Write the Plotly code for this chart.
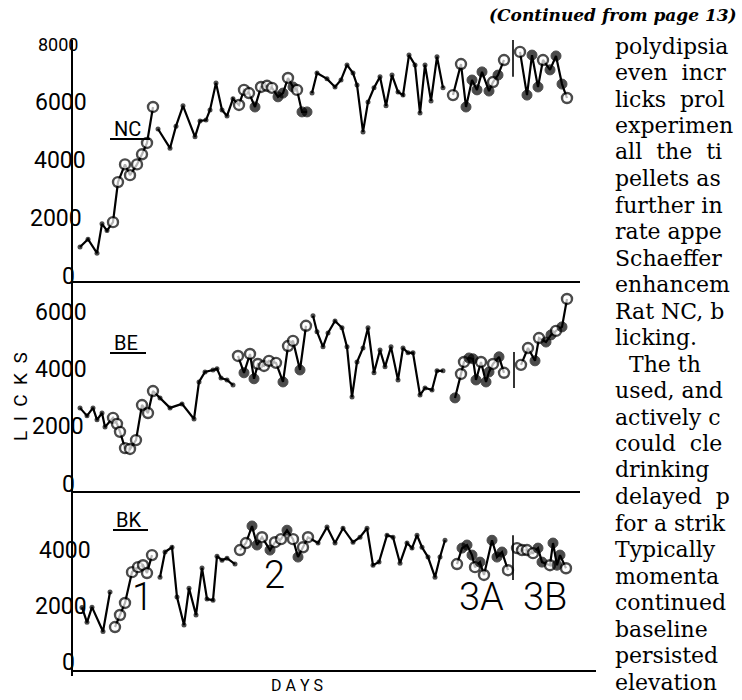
import plotly.graph_objects as go

# ---------------- data ----------------
# each rat: list of line segments (breaks in the record); marks: d = small dot,
# o = open circle, f = filled circle
NC_DAYS = [
    [1.4, 3.0, 4.8, 5.8, 6.8, 8.0, 9.0, 10.4, 11.4, 12.8, 13.8, 14.8, 16.0],
    [17.0, 19.4, 20.6, 22.0, 24.4, 25.4, 26.6, 27.4, 28.6, 29.8, 30.8, 32.0,
     33.2, 34.2, 35.2, 36.4, 37.6, 38.8, 39.8, 41.0, 42.0, 43.0, 44.0, 44.8, 45.8, 46.8],
    [47.8, 48.8, 50.8, 52.4, 53.6, 54.8, 56.0, 56.8, 58.0, 59.0, 60.2, 61.4, 62.6,
     63.8, 65.0, 66.0, 67.2, 68.4, 69.4, 70.4, 71.6, 72.8, 74.0],
    [76.0, 77.6, 78.6, 79.8, 80.8, 81.8, 83.2, 84.0, 85.0, 86.2],
    [89.4, 90.8, 91.8, 93.0, 94.0, 95.4, 96.6, 97.8, 98.8],
]
NC_LICKS = [
    [1000, 1270, 790, 1800, 1570, 1860, 3240, 3850, 3480, 3850, 4200, 4590, 5830],
    [5070, 4410, 5170, 5870, 4800, 5350, 5380, 5730, 6660, 5730, 5520, 6110,
     5900, 6420, 6310, 5830, 6520, 6560, 6490, 6180, 6310, 6830, 6520, 6420, 5660, 5660],
    [6310, 7000, 6800, 6520, 6760, 7280, 7000, 6590, 4970, 6000, 6490, 6870, 5870,
     6930, 6350, 6240, 7620, 7280, 5620, 7280, 6040, 7560, 6490],
    [6240, 7310, 5830, 6760, 6420, 7040, 6380, 6690, 6930, 7450],
    [7730, 6240, 7620, 6520, 7450, 7110, 7590, 6620, 6140],
]
NC_MARKS = ["dddddoooooooo", "dddddddddddd" + "ooofoooffofoff", "d" * 23,
            "oofffffofo", "offfofffo"]

BE_DAYS = [
    [1.4, 2.8, 4.0, 4.8, 5.8, 6.4, 8.0, 8.8, 9.4, 10.4, 11.4, 12.6, 13.8, 15.0, 16.0,
     17.4, 19.4, 21.8, 24.2, 25.2, 26.4, 28.0, 28.8, 29.6, 30.8, 32.0],
    [33.0, 34.2, 35.4, 36.2, 37.0, 38.2, 39.2, 40.6, 42.0, 43.0, 44.0, 45.4, 46.6],
    [48.0, 48.8, 50.0, 51.0, 52.4, 53.8, 54.8, 55.8, 56.8, 58.0, 59.0, 60.2, 61.4,
     62.4, 63.6, 65.0, 66.0, 67.0, 68.0, 69.4, 70.4, 71.8, 72.8, 74.0],
    [76.4, 77.6, 78.2, 79.2, 80.0, 80.6, 81.6, 82.6, 83.2, 84.0, 85.2, 86.2],
    [89.6, 91.0, 92.4, 93.2, 94.6, 95.6, 96.6, 97.8, 98.8],
]
BE_LICKS = [
    [2670, 2390, 2670, 2250, 2490, 2000, 2320, 2110, 1830, 1260, 1230, 1540, 2770, 2490,
     3260, 3020, 2670, 2810, 2280, 3580, 3930, 4000, 4040, 3720, 3650, 3470],
    [4490, 3900, 4560, 3690, 4210, 4140, 4320, 4250, 3580, 4840, 5020, 4000, 5550],
    [5900, 5340, 4810, 5300, 5720, 5480, 4810, 3050, 4280, 4770, 5480, 3900, 4700,
     4110, 4810, 3650, 4770, 4600, 4600, 3120, 3370, 3300, 3970, 3970],
    [3020, 3860, 4280, 4420, 4390, 3650, 4280, 3580, 3930, 4210, 4460, 3900],
    [4180, 4770, 4320, 5120, 4980, 5230, 5370, 5510, 6490],
]
BE_MARKS = ["d" * 6 + "o" * 9 + "d" * 11, "ofofoooofoofo", "d" * 24,
            "foofffoffofo", "oofoffofo"]

BK_DAYS = [
    [1.8, 2.8, 3.8, 6.0, 7.4],
    [8.4, 9.4, 10.4, 11.8, 13.0, 14.0, 14.8, 15.8],
    [17.4, 18.4, 19.8, 20.8, 22.2, 23.2, 24.6, 25.8, 26.8, 28.0, 28.8, 29.8, 30.8, 32.4],
    [33.4, 34.6, 35.8, 36.8, 37.8, 39.4, 40.4, 41.6, 42.8, 44.0, 45.0, 46.0, 47.0,
     49.0, 50.8, 52.4, 54.0, 56.0, 57.4, 58.8, 60.0, 61.2, 62.8, 64.0, 65.4, 66.8,
     67.8, 68.8, 69.8, 71.0, 72.4, 73.4, 74.4],
    [76.8, 77.8, 78.8, 79.8, 80.4, 81.4, 82.2, 83.8, 84.8, 85.8, 87.0],
    [88.8, 89.8, 90.8, 92.0, 93.0, 93.8, 95.4, 96.0, 96.8, 97.4, 98.6],
]
BK_LICKS = [
    [1950, 1420, 1960, 1090, 2500],
    [1250, 1680, 2110, 3210, 3390, 3460, 3180, 3820],
    [3030, 3930, 4100, 2320, 1320, 2640, 1680, 3360, 2250, 2210, 3780, 3640, 3710, 3500],
    [4000, 4250, 4860, 4180, 4460, 4000, 4280, 4390, 4710, 4390, 3750, 4100, 4460,
     4250, 4820, 4250, 4780, 4280, 4460, 4780, 3460, 3570, 4530, 4460, 3530, 4250,
     4070, 4530, 4100, 3750, 3030, 3750, 4350],
    [3500, 4070, 4180, 3820, 3390, 3570, 3110, 4350, 3750, 3930, 3280],
    [4070, 4000, 4000, 3890, 4070, 3570, 3460, 4250, 3460, 3820, 3350],
]
BK_MARKS = ["ddddd", "oooooooo", "d" * 14, "ooffofoofofoo" + "d" * 20,
            "offfofofffo", "ooooffofffo"]

# phase separators (day, licks span)
NC_SEP_DAY, NC_SEP = [88.0, 88.0], [6870, 8140]
BE_SEP_DAY, BE_SEP = [88.2, 88.2], [3370, 4630]
BK_SEP_DAY, BK_SEP = [88.0, 88.0], [2930, 4530]

NC_TICKS = [0, 2000, 4000, 6000, 8000]
BE_TICKS = [0, 2000, 4000, 6000]
BK_TICKS = [0, 2000, 4000]
PHASE_LABELS = ["1", "2", "3A", "3B"]

BODY_LINES = ["polydipsia", "even  incr", "licks  prol", "experimen", "all  the  ti",
              "pellets as", "further in", "rate appe", "Schaeffer", "enhancem",
              "Rat NC, b", "licking.", "The th", "used, and", "actively c",
              "could  cle", "drinking", "delayed  p", "for a strik", "Typically",
              "momenta", "continued", "baseline", "persisted", "elevation"]
HEADING = "(Continued from page 13)"

# ---------------- figure ----------------
W, H = 742, 700
def px(x): return x / W
def py(y): return 1 - y / H

SIZE = {"d": 5, "o": 10, "f": 10}
FILL = {"d": "black", "o": "white", "f": "black"}
LW = {"d": 0, "o": 2.4, "f": 1}

fig = go.Figure()
panels = [
    (NC_DAYS, NC_LICKS, NC_MARKS, NC_SEP_DAY, NC_SEP, "x", "y"),
    (BE_DAYS, BE_LICKS, BE_MARKS, BE_SEP_DAY, BE_SEP, "x2", "y2"),
    (BK_DAYS, BK_LICKS, BK_MARKS, BK_SEP_DAY, BK_SEP, "x3", "y3"),
]
for days, licks, marks, sd, sv, xa, ya in panels:
    for d, l, m in zip(days, licks, marks):
        fig.add_trace(go.Scatter(
            x=d, y=l, mode="lines+markers", xaxis=xa, yaxis=ya,
            line=dict(color="black", width=2.2),
            marker=dict(size=[SIZE[c] for c in m], color=[FILL[c] for c in m],
                        line=dict(color="black", width=[LW[c] for c in m])),
            showlegend=False, hoverinfo="skip", cliponaxis=False))
    fig.add_trace(go.Scatter(x=sd, y=sv, mode="lines", xaxis=xa, yaxis=ya,
                             line=dict(color="black", width=1.6),
                             showlegend=False, hoverinfo="skip"))

xcommon = dict(domain=[px(73), px(580)], range=[0, 101.4], showline=True,
               linewidth=2, linecolor="black", showgrid=False, zeroline=False,
               showticklabels=False, ticks="", fixedrange=True)
ycommon = dict(showline=True, linewidth=2, linecolor="black", showgrid=False,
               zeroline=False, showticklabels=False, ticks="", fixedrange=True)

fig.update_layout(
    width=W, height=H, autosize=False,
    margin=dict(l=0, r=0, t=0, b=0),
    paper_bgcolor="white", plot_bgcolor="white",
    xaxis=dict(xcommon, anchor="y"),
    xaxis2=dict(xcommon, anchor="y2", matches="x"),
    xaxis3=dict(xcommon, anchor="y3", matches="x"),
    yaxis=dict(ycommon, anchor="x", domain=[py(281), py(40)], range=[-170, 8140]),
    yaxis2=dict(ycommon, anchor="x2", domain=[py(491), py(281)], range=[-245, 7120]),
    yaxis3=dict(ycommon, anchor="x3", domain=[py(670), py(491)], range=[-285, 6110]),
)

LETTER = dict(family="Roboto", color="black")
THIN = dict(family="Roboto", color="black", weight=300)
ann = []
tick_right = {
    "y": {0: 77, 2000: 84, 4000: 88, 6000: 89, 8000: 80},
    "y2": {0: 77, 2000: 86, 4000: 89, 6000: 89},
    "y3": {0: 77, 2000: 89, 4000: 93},
}
for ticks, ya in [(NC_TICKS, "y"), (BE_TICKS, "y2"), (BK_TICKS, "y3")]:
    for v in ticks:
        ann.append(dict(x=px(tick_right[ya][v]), xref="paper", y=v, yref=ya,
                        text=str(v), showarrow=False, xanchor="right", yanchor="middle",
                        font=dict(LETTER, size=18 if v == 8000 else 23)))

# rat names
for name, xl, yc in [("NC", 112, 129), ("BE", 112, 343), ("BK", 114, 520)]:
    ann.append(dict(x=px(xl), y=py(yc), xref="paper", yref="paper", text=name,
                    showarrow=False, xanchor="left", yanchor="middle",
                    font=dict(LETTER, size=20)))

# phase labels
for t, xc, yc in zip(PHASE_LABELS, [142, 274, 481, 545], [597, 575, 597, 597]):
    ann.append(dict(x=px(xc), y=py(yc), xref="paper", yref="paper", text=t,
                    showarrow=False, xanchor="center", yanchor="middle",
                    font=dict(THIN, size=38)))

ann.append(dict(x=px(20), y=py(397), xref="paper", yref="paper",
                text="L  I  C  K  S", textangle=-90, showarrow=False,
                xanchor="center", yanchor="middle", font=dict(LETTER, size=19)))
ann.append(dict(x=px(297), y=py(685), xref="paper", yref="paper", text="D A Y S",
                showarrow=False, xanchor="center", yanchor="middle",
                font=dict(LETTER, size=16)))

# page text
ann.append(dict(x=px(487), y=py(15), xref="paper", yref="paper", text=HEADING,
                showarrow=False, xanchor="left", yanchor="middle",
                font=dict(family="DejaVu Serif", size=17, color="black",
                          style="italic", weight="bold")))
for i, line in enumerate(BODY_LINES):
    xl = 627 if line.startswith("The th") else 613
    ann.append(dict(x=px(xl), y=py(46 + 26.5 * i), xref="paper", yref="paper",
                    text=line, showarrow=False, xanchor="left", yanchor="middle",
                    font=dict(family="DejaVu Serif", size=22, color="black")))

shapes = []
for x0, x1, yy in [(110, 150, 139), (110, 146, 353), (113, 148, 530)]:
    shapes.append(dict(type="line", xref="paper", yref="paper", x0=px(x0), x1=px(x1),
                       y0=py(yy), y1=py(yy), line=dict(color="black", width=2)))
shapes.append(dict(type="line", xref="paper", yref="paper", x0=px(578), x1=px(596),
                   y0=py(671), y1=py(671), line=dict(color="black", width=2)))
shapes.append(dict(type="line", xref="paper", yref="paper", x0=px(72), x1=px(72),
                   y0=py(670), y1=py(676), line=dict(color="black", width=2)))

fig.update_layout(annotations=ann, shapes=shapes)

fig.write_html("out.html", config={"displayModeBar": False, "staticPlot": True},
               post_script="document.body.style.margin='0';")
